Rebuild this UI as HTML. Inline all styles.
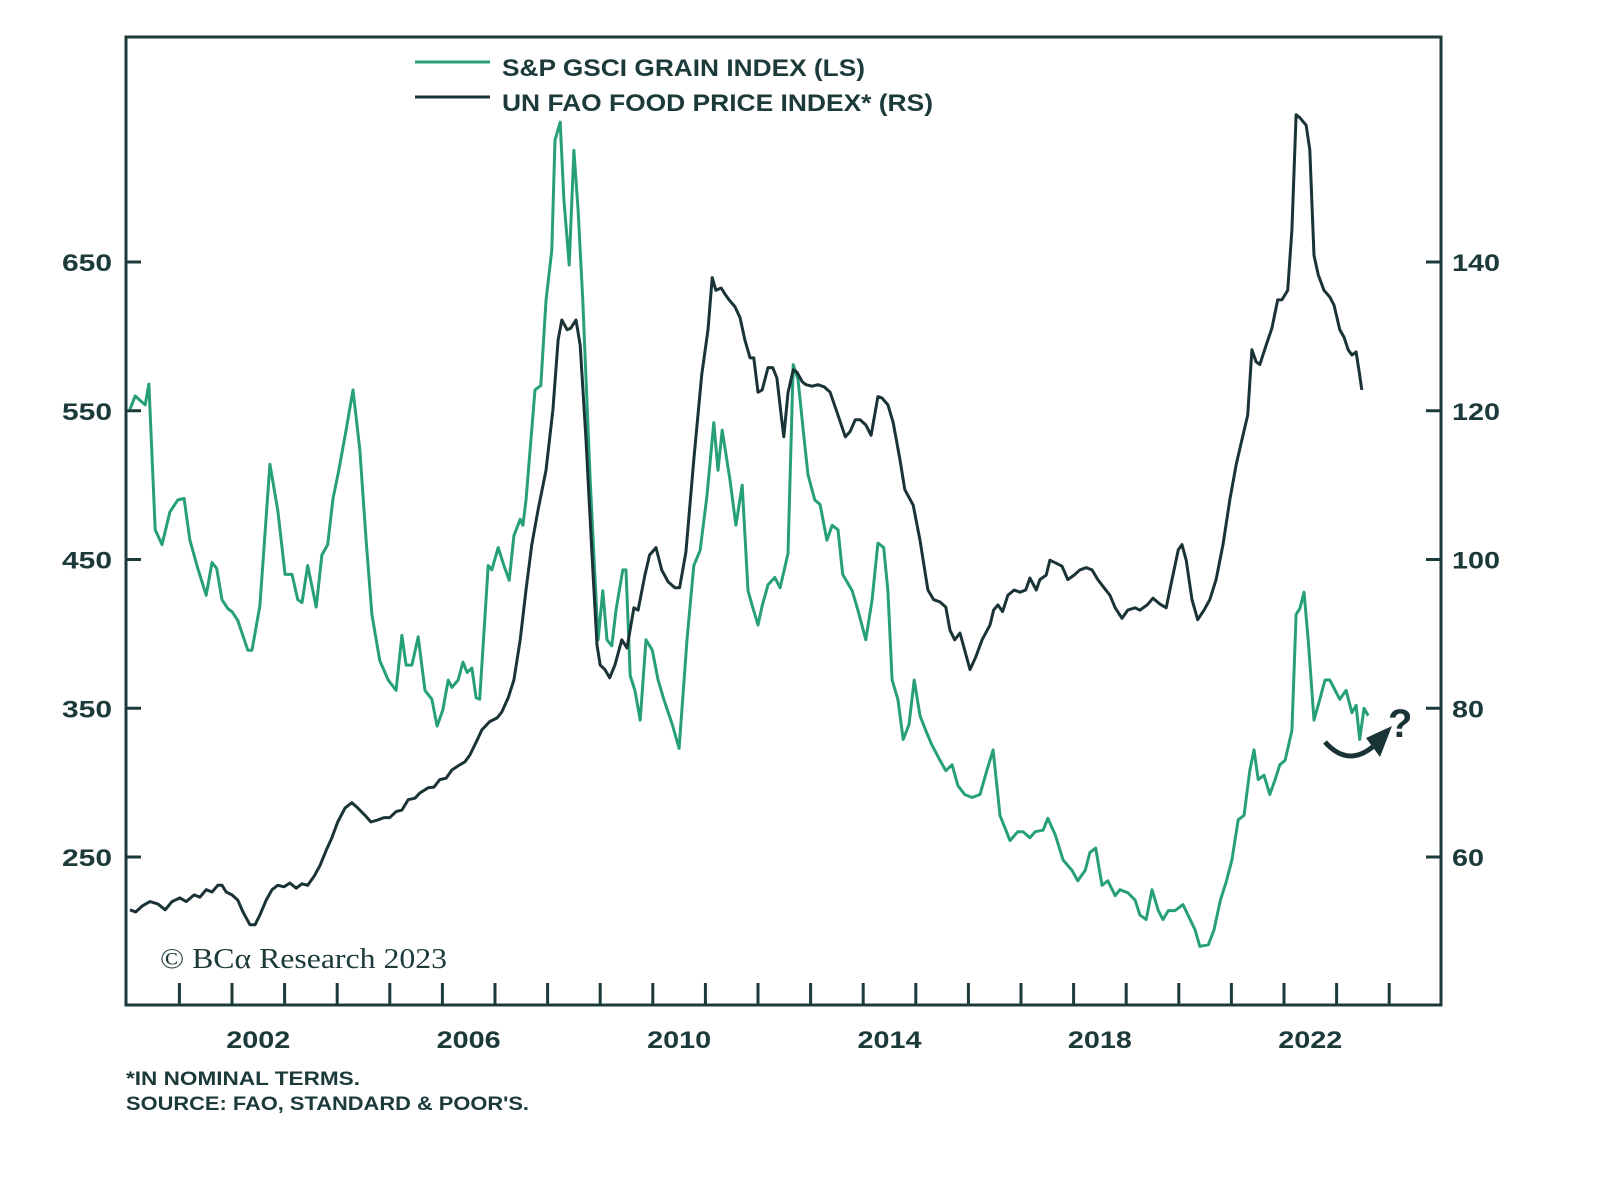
<!DOCTYPE html>
<html><head><meta charset="utf-8"><style>
body{margin:0;background:#fff;}
svg text{font-family:"Liberation Sans",sans-serif;}
</style></head><body>
<svg id="chart" width="1600" height="1177" viewBox="0 0 1600 1177" xmlns="http://www.w3.org/2000/svg">
<rect x="126" y="37" width="1315" height="968" fill="none" stroke="#1c3a3a" stroke-width="3"/>
<g id="axes"></g>
<g id="series"></g>
<g>
<line x1="415" y1="62" x2="490" y2="62" stroke="#27a07a" stroke-width="3"/>
<text x="502" y="76" font-size="24" font-weight="bold" fill="#1c3a3a" textLength="363" lengthAdjust="spacingAndGlyphs">S&amp;P GSCI GRAIN INDEX (LS)</text>
<line x1="415" y1="97" x2="490" y2="97" stroke="#1a3336" stroke-width="3"/>
<text x="502" y="111" font-size="24" font-weight="bold" fill="#1c3a3a" textLength="431" lengthAdjust="spacingAndGlyphs">UN FAO FOOD PRICE INDEX* (RS)</text>
</g>
<text x="160" y="968" font-size="29" fill="#1c3a3a" textLength="287" lengthAdjust="spacingAndGlyphs" style="font-family:'Liberation Serif',serif">© BCα Research 2023</text>
<path d="M1325 742 Q1350 770 1378 742" fill="none" stroke="#1a3336" stroke-width="5"/>
<polygon points="1392,726 1366,738 1380,757" fill="#1a3336"/>
<text x="1388" y="737" font-size="40" font-weight="bold" fill="#1a3336">?</text>
<text x="126" y="1085" font-size="19" font-weight="bold" fill="#1c3a3a" textLength="234" lengthAdjust="spacingAndGlyphs">*IN NOMINAL TERMS.</text>
<text x="126" y="1110" font-size="19" font-weight="bold" fill="#1c3a3a" textLength="403" lengthAdjust="spacingAndGlyphs">SOURCE: FAO, STANDARD &amp; POOR'S.</text>
</svg>
<script>
const grainYears=[0.06,0.16,0.25,0.35,0.42,0.54,0.67,0.82,0.97,1.09,1.20,1.35,1.51,1.62,1.71,1.81,1.92,2.00,2.11,2.30,2.38,2.53,2.72,2.87,3.01,3.14,3.25,3.33,3.44,3.60,3.71,3.82,3.92,4.03,4.17,4.30,4.43,4.55,4.66,4.81,4.97,5.12,5.23,5.31,5.42,5.54,5.67,5.80,5.90,6.01,6.11,6.18,6.30,6.39,6.47,6.56,6.64,6.71,6.87,6.94,7.06,7.17,7.27,7.36,7.48,7.53,7.59,7.76,7.87,7.97,8.08,8.14,8.24,8.31,8.41,8.50,8.58,8.67,8.81,8.96,9.05,9.13,9.22,9.30,9.43,9.49,9.57,9.66,9.76,9.87,9.99,10.10,10.21,10.37,10.50,10.65,10.78,10.90,11.03,11.16,11.24,11.32,11.47,11.58,11.70,11.81,11.89,12.00,12.08,12.19,12.32,12.42,12.57,12.67,12.76,12.88,12.95,13.08,13.18,13.31,13.41,13.52,13.61,13.79,13.90,14.05,14.17,14.28,14.39,14.47,14.55,14.66,14.76,14.87,14.97,15.08,15.19,15.31,15.46,15.57,15.69,15.80,15.93,16.07,16.22,16.35,16.47,16.60,16.79,16.94,17.04,17.17,17.27,17.42,17.51,17.65,17.80,17.97,18.08,18.22,18.31,18.42,18.54,18.65,18.79,18.88,19.03,19.17,19.26,19.38,19.49,19.61,19.70,19.80,19.93,20.08,20.31,20.40,20.56,20.67,20.79,20.90,21.01,21.13,21.24,21.35,21.43,21.51,21.62,21.73,21.83,21.92,22.02,22.15,22.23,22.30,22.38,22.46,22.57,22.68,22.78,22.87,23.06,23.18,23.29,23.37,23.44,23.52,23.60];
const grainValues=[551,560,557,554,568,470,460,482,490,491,463,444,426,448,444,423,417,415,409,389,389,419,514,483,440,440,423,421,446,418,453,460,491,510,537,564,524,463,413,382,369,362,399,379,379,398,362,356,338,349,369,364,369,381,374,377,357,356,446,443,458,446,436,466,477,473,490,564,567,624,658,732,744,692,648,725,685,624,503,396,429,396,392,416,443,443,372,362,342,396,389,369,356,339,323,396,446,456,493,542,510,537,503,473,500,429,419,406,419,433,438,431,454,581,571,530,507,490,487,463,473,470,440,429,416,396,423,461,458,429,369,356,329,339,369,345,335,325,315,308,312,298,292,290,292,308,322,278,261,267,267,263,267,268,276,265,248,241,234,241,253,256,231,234,224,228,226,221,211,208,228,214,208,214,214,218,201,190,191,201,221,233,248,275,278,308,322,302,305,292,302,312,315,335,413,417,428,396,342,356,369,369,356,362,347,352,329,350,345];
const foodYears=[0.06,0.17,0.29,0.44,0.59,0.73,0.86,1.01,1.13,1.28,1.39,1.51,1.62,1.73,1.81,1.89,2.00,2.11,2.21,2.34,2.44,2.53,2.65,2.76,2.87,2.99,3.10,3.22,3.33,3.44,3.56,3.67,3.79,3.90,4.01,4.15,4.28,4.39,4.53,4.64,4.78,4.89,5.00,5.12,5.23,5.35,5.48,5.57,5.73,5.84,5.95,6.07,6.18,6.33,6.43,6.52,6.66,6.75,6.90,7.04,7.13,7.25,7.36,7.48,7.59,7.70,7.82,7.97,8.10,8.20,8.27,8.37,8.44,8.54,8.62,8.73,8.85,8.94,9.00,9.09,9.18,9.28,9.41,9.51,9.64,9.72,9.85,9.94,10.06,10.17,10.29,10.42,10.51,10.63,10.78,10.93,11.05,11.13,11.20,11.30,11.37,11.45,11.56,11.66,11.75,11.85,11.92,12.00,12.08,12.19,12.28,12.36,12.45,12.49,12.57,12.67,12.74,12.84,12.91,13.03,13.14,13.26,13.37,13.52,13.66,13.75,13.85,13.94,14.05,14.15,14.28,14.36,14.47,14.57,14.70,14.79,14.95,15.08,15.23,15.34,15.46,15.57,15.65,15.74,15.84,15.93,16.03,16.14,16.26,16.41,16.48,16.56,16.65,16.75,16.87,16.98,17.09,17.17,17.29,17.36,17.48,17.55,17.67,17.78,17.89,18.01,18.12,18.24,18.35,18.46,18.58,18.69,18.79,18.92,19.03,19.17,19.26,19.40,19.51,19.64,19.76,19.87,19.99,20.06,20.14,20.25,20.36,20.48,20.59,20.71,20.84,20.97,21.09,21.20,21.31,21.39,21.47,21.54,21.66,21.77,21.88,21.96,22.07,22.15,22.23,22.30,22.42,22.49,22.57,22.65,22.76,22.87,22.95,23.06,23.14,23.22,23.29,23.37,23.44,23.48];
const foodValues=[52.9,52.6,53.4,54.0,53.7,52.9,54.0,54.5,54.0,54.9,54.6,55.6,55.3,56.2,56.2,55.3,54.9,54.2,52.6,50.9,50.9,52.2,54.2,55.6,56.2,56.0,56.5,55.8,56.4,56.2,57.4,58.8,60.9,62.6,64.7,66.6,67.3,66.6,65.6,64.7,65.0,65.3,65.3,66.1,66.3,67.7,67.9,68.6,69.3,69.4,70.4,70.6,71.7,72.4,72.8,73.7,75.7,77.1,78.2,78.7,79.5,81.4,83.8,89.2,95.9,102.0,106.7,112.0,120.1,129.5,132.2,130.9,131.1,132.2,128.8,116.1,99.9,88.5,85.8,85.2,84.1,85.8,89.2,88.1,93.5,93.2,97.9,100.6,101.6,98.6,97.0,96.2,96.2,101.0,113.4,124.8,130.9,137.9,136.2,136.5,135.7,134.9,134.0,132.5,129.5,127.1,127.1,122.5,122.8,125.8,125.8,124.4,118.8,116.5,122.4,125.5,125.2,123.9,123.5,123.3,123.5,123.2,122.5,119.4,116.5,117.2,118.8,118.8,118.1,116.7,121.9,121.7,120.8,118.4,113.4,109.4,107.3,102.6,95.9,94.6,94.3,93.6,90.5,89.2,90.1,87.8,85.2,86.9,89.2,91.2,93.2,93.9,93.0,95.2,95.9,95.6,95.9,97.5,95.9,97.3,97.9,99.9,99.5,99.1,97.3,97.9,98.6,98.9,98.6,97.3,96.2,95.2,93.5,92.1,93.2,93.5,93.2,93.9,94.8,94.0,93.5,97.3,101.3,102.0,99.9,94.6,91.9,93.2,94.6,97.3,102.0,108.0,112.7,116.1,119.4,128.2,126.6,126.2,128.8,131.1,134.9,134.9,136.2,144.3,159.8,159.4,158.4,155.1,140.9,138.3,136.2,135.3,134.2,130.9,129.9,128.2,127.5,127.9,124.8,122.8];
const leftTicks=[250,350,450,550,650];
const rightTicks=[60,80,100,120,140];
const yearLabels=[2002,2006,2010,2014,2018,2022];
const tickYears=[2001,2002,2003,2004,2005,2006,2007,2008,2009,2010,2011,2012,2013,2014,2015,2016,2017,2018,2019,2020,2021,2022,2023,2024];

const NS='http://www.w3.org/2000/svg';
const xOf=t=>232+(t-2002)*52.6;
const yL=v=>262+(650-v)*1.4875;
const yR=v=>262+(140-v)*7.4375;
const axes=document.getElementById('axes'),series=document.getElementById('series');
function mk(tag,attrs,parent){const e=document.createElementNS(NS,tag);for(const k in attrs)e.setAttribute(k,attrs[k]);parent.appendChild(e);return e;}
const C='#1c3a3a';
leftTicks.forEach(v=>{
  const l=mk('line',{x1:126,x2:141,y1:yL(v),y2:yL(v),stroke:C,'stroke-width':3},axes);
  
  
  const t=mk('text',{x:112,y:yL(v)+9,'text-anchor':'end','font-size':24,'font-weight':'bold',fill:C,textLength:50,lengthAdjust:'spacingAndGlyphs'},axes);
  t.textContent=v;
  
  
});
rightTicks.forEach(v=>{
  const l=mk('line',{x1:1426,x2:1441,y1:yR(v),y2:yR(v),stroke:C,'stroke-width':3},axes);
  
  
  const t=mk('text',{x:1452,y:yR(v)+9,'font-size':24,'font-weight':'bold',fill:C},axes);
  t.textContent=v;
  t.setAttribute('textLength',String(v).length*16);
  t.setAttribute('lengthAdjust','spacingAndGlyphs');
  
  
});
tickYears.forEach(y=>{
  const l=mk('line',{x1:xOf(y),x2:xOf(y),y1:983,y2:1005,stroke:C,'stroke-width':3},axes);
  
  
});
yearLabels.forEach(y=>{
  const t=mk('text',{x:xOf(y+0.5)-32,y:1048,'font-size':24,'font-weight':'bold',fill:C,textLength:64,lengthAdjust:'spacingAndGlyphs'},axes);
  t.textContent=y;
  
  
});
function line(ts,vs,yf){return ts.map((t,i)=>(i?'L':'M')+xOf(2000+t).toFixed(1)+' '+yf(vs[i]).toFixed(1)).join(' ');}
const g=mk('path',{d:line(grainYears,grainValues,yL),fill:'none',stroke:'#27a07a','stroke-width':3,'stroke-linejoin':'round'},series);


const f=mk('path',{d:line(foodYears,foodValues,yR),fill:'none',stroke:'#1a3336','stroke-width':3,'stroke-linejoin':'round'},series);


</script>
</body></html>
